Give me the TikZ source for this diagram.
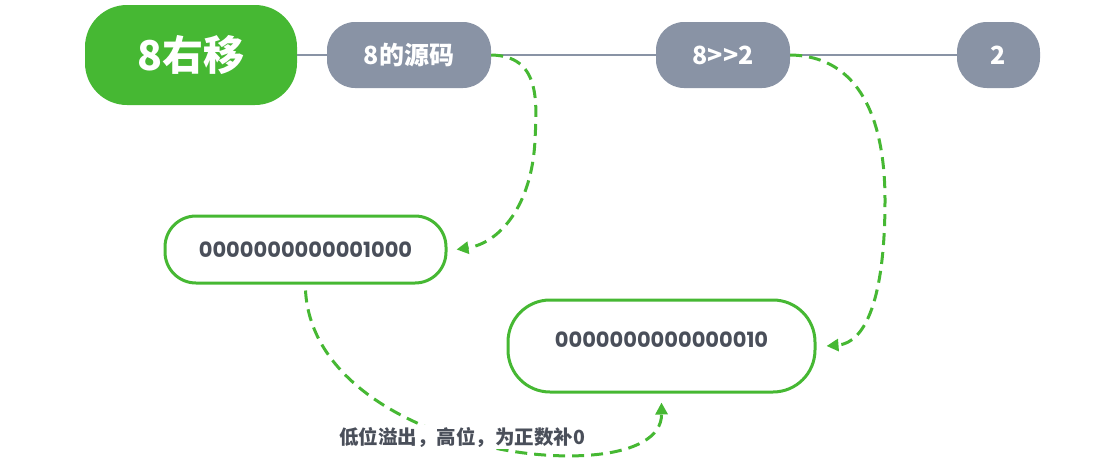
\documentclass[tikz,border=0pt]{standalone}
\usepackage{fontspec}
\setmainfont{Noto Sans CJK SC}
\newfontfamily\digitfont{Poppins}
\usetikzlibrary{arrows.meta}
\definecolor{mgreen}{HTML}{46B833}
\definecolor{mgray}{HTML}{8993A5}
\definecolor{mtext}{HTML}{4A4F5A}
\tikzset{
  rootbox/.style={fill=mgreen, draw=none, rounded corners=42pt, minimum width=212pt, minimum height=100pt, inner sep=0pt, text=white, font=\fontsize{41}{43}\selectfont\bfseries},
  graybox/.style={fill=mgray, draw=none, rounded corners=28pt, minimum height=66pt, inner sep=0pt, text=white, font=\fontsize{25}{28}\selectfont\bfseries},
  valbox/.style={fill=white, draw=mgreen, line width=3pt, inner sep=0pt, text=mtext, font=\digitfont\fontsize{21}{23}\selectfont\bfseries},
  trunk/.style={draw=mgray, line width=2.2pt},
  flow/.style={draw=mgreen, line width=3pt, dash pattern=on 12pt off 7pt, -{Triangle[length=12pt,width=12pt]}},
  note/.style={fill=white, inner sep=2pt, text=mtext, font=\fontsize{19.5}{21}\selectfont\bfseries}
}
\begin{document}
\begin{tikzpicture}[x=1pt,y=-1pt]
\useasboundingbox (0,0) rectangle (1111,472);
\node[rootbox] (root) at (191,55) {8右移};
\node[graybox, minimum width=164pt] (src) at (409,55) {8的源码};
\node[graybox, minimum width=134pt] (shift) at (723,55) {8>{}>2};
\node[graybox, minimum width=83pt, rounded corners=30pt] (res) at (998.5,55) {2};
\draw[trunk] (root.east) -- (src.west);
\draw[trunk] (src.east) -- (shift.west);
\draw[trunk] (shift.east) -- (res.west);
\node[valbox, rounded corners=31pt, minimum width=281pt, minimum height=67pt] (b1) at (305.5,249.5) {0000000000001000};
\node[valbox, rounded corners=42pt, minimum width=307pt, minimum height=92pt] (b2) at (661.5,346) {\raisebox{13pt}{0000000000000010}};
\draw[flow] (src.east) .. controls (540,56) and (537,100) .. (535,140)
  .. controls (532,205) and (500,243) .. ([xshift=9pt]b1.east);
\draw[flow] (shift.east) .. controls (860,56) and (885,120) .. (885,200)
  .. controls (885,300) and (865,343) .. ([xshift=10pt]b2.east);
\draw[flow] ([yshift=-6pt]b1.south) .. controls (310,370) and (390,420) .. (470,442)
  .. controls (550,465) and (662,462) .. ([yshift=-9pt]b2.south);
\node[note] (lbl) at (462,437) {低位溢出，高位，为正数补0};
\end{tikzpicture}
\end{document}
